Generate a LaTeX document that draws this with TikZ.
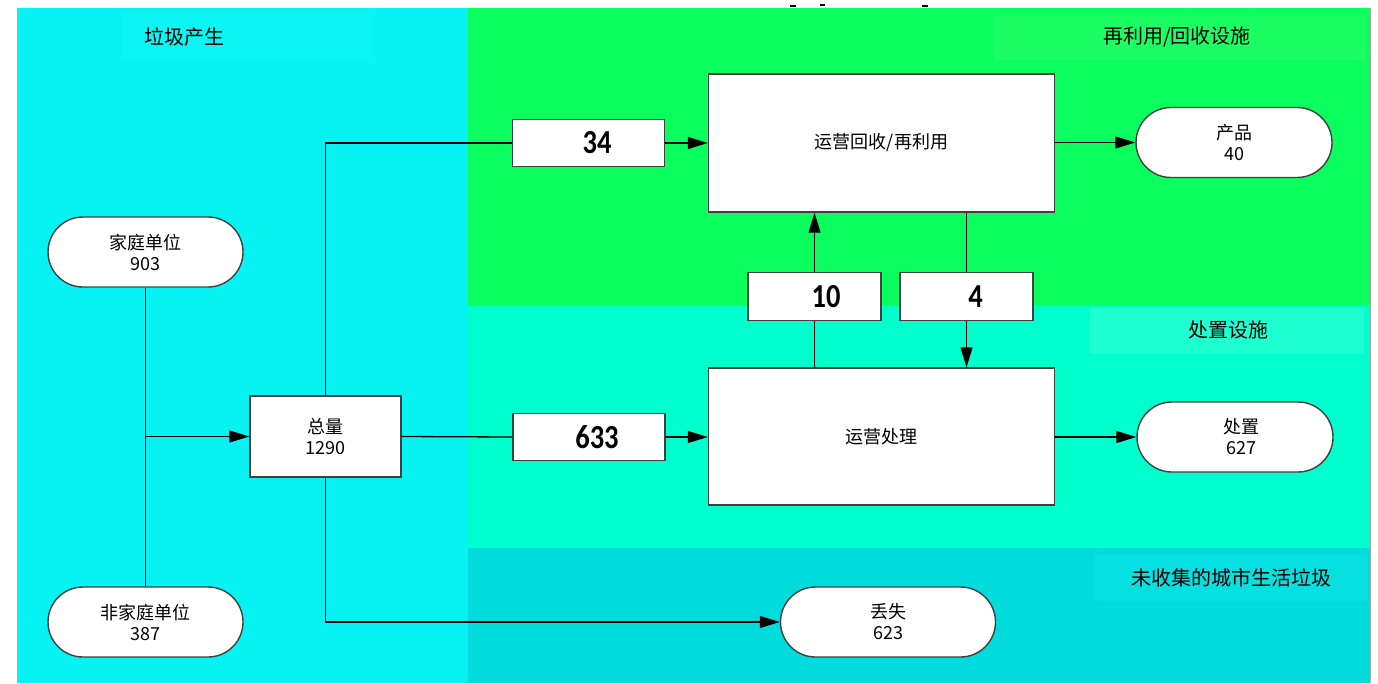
\documentclass[tikz,border=0pt]{standalone}
\usepackage{fontspec}
\newfontfamily\cjk{Noto Sans CJK SC}
\newfontfamily\numfont{Carlito}
\usetikzlibrary{arrows.meta,calc}
\definecolor{bgcyan}{HTML}{07F3F3}
\definecolor{labcyan}{HTML}{0CF4F4}
\definecolor{bggreen}{HTML}{0AFF5E}
\definecolor{labgreen}{HTML}{1CFF62}
\definecolor{bgaqua}{HTML}{00FFCC}
\definecolor{labaqua}{HTML}{1EFFD2}
\definecolor{bgteal}{HTML}{00DCDC}
\definecolor{labteal}{HTML}{06E0E0}
\definecolor{edgegray}{HTML}{404040}
\tikzset{
  box/.style={draw=edgegray, line width=1.4pt, fill=white, rectangle, inner sep=0pt,
              font=\cjk\fontsize{18}{21}\selectfont, align=center},
  term/.style={box, rounded corners=35pt},
  numbox/.style={box, font=\numfont\bfseries\fontsize{30}{30}\selectfont},
  conn/.style={line width=1.3pt, black},
  arr/.style={conn, -{Triangle[length=20pt,width=12pt]}},
  zonelabel/.style={font=\cjk\fontsize{20}{24}\selectfont, inner sep=0pt}
}
\newcommand{\numtxt}[2]{\hspace*{#1}\raisebox{-2pt}{\scalebox{0.95}[1.12]{#2}}}
\begin{document}
\begin{tikzpicture}[x=1pt,y=-1pt]
\useasboundingbox (0,0) rectangle (1378,683);
\fill[white] (0,0) rectangle (1378,683);
% zones
\fill[bgcyan] (17,8) rectangle (468,683);
\fill[bggreen] (468,8) rectangle (1370,305);
\fill[bgaqua] (468,305) rectangle (1370,548);
\fill[bgteal] (468,548) rectangle (1370,683);
\draw[gray!70, line width=0.8pt] (1370,8) -- (1370,683);
% zone label boxes
\fill[labcyan] (123,12) rectangle (372,60);
\fill[labgreen] (994,15) rectangle (1366,60);
\fill[labaqua] (1090,308) rectangle (1364,354);
\fill[labteal] (1094,555) rectangle (1368,601);
\node[zonelabel] (zl1) at (184,37) {垃圾产生};
\node[zonelabel] (zl2) at (1177,37) {再利用/回收设施};
\node[zonelabel] (zl3) at (1228,330) {处置设施};
\node[zonelabel] (zl4) at (1231,578) {未收集的城市生活垃圾};
% top residue marks
\fill[black] (790,4.5) rectangle (796,6.5);
\fill[black] (820,4) rectangle (825,5.5);
\fill[black] (922,4.5) rectangle (928,6.5);
% nodes
\node[term, minimum width=195pt, minimum height=70pt] (home) at (145.5,252) {家庭单位\\903};
\node[term, minimum width=195pt, minimum height=70pt] (nonhome) at (145.5,622) {非家庭单位\\387};
\node[box, minimum width=151pt, minimum height=81pt] (total) at (325.5,436.5) {总量\\1290};
\node[numbox, minimum width=152pt, minimum height=47pt] (b34) at (588.5,143) {\numtxt{17pt}{34}};
\node[numbox, minimum width=152pt, minimum height=47pt] (b633) at (589,437) {\numtxt{16pt}{633}};
\node[box, minimum width=346pt, minimum height=138pt] (rec) at (881.5,143) {运营回收/再利用};
\node[box, minimum width=346pt, minimum height=137pt] (proc) at (881.5,436.5) {运营处理};
\node[numbox, minimum width=133pt, minimum height=48pt] (b10) at (814.5,296.5) {\numtxt{23pt}{10}};
\node[numbox, minimum width=133pt, minimum height=48pt] (b4) at (966.5,296.5) {\numtxt{18pt}{4}};
\node[term, minimum width=196pt, minimum height=70pt] (prod) at (1234,142.5) {产品\\40};
\node[term, minimum width=196pt, minimum height=70pt] (disp) at (1235,437) {\hspace*{12pt}处置\\\hspace*{12pt}627};
\node[term, minimum width=215pt, minimum height=70pt] (lost) at (888,622) {丢失\\623};
% connectors
\draw[conn] (home.south) -- (nonhome.north);
\draw[arr] (home.south |- total.west) -- (total.west);
\draw[conn] (total.north) |- (b34.west);
\draw[arr] (b34.east) -- (rec.west |- b34.east);
\draw[conn] (total.east) -- (b633.west);
\draw[arr] (b633.east) -- (proc.west |- b633.east);
\draw[arr] (total.south) |- (lost.west);
\draw[arr] (rec.east |- prod.west) -- (prod.west);
\draw[arr] (proc.east |- disp.west) -- (disp.west);
\draw[conn] (proc.north -| b10.south) -- (b10.south);
\draw[arr] (b10.north) -- (rec.south -| b10.north);
\draw[conn] (rec.south -| b4.north) -- (b4.north);
\draw[arr] (b4.south) -- (proc.north -| b4.south);
\end{tikzpicture}
\end{document}
